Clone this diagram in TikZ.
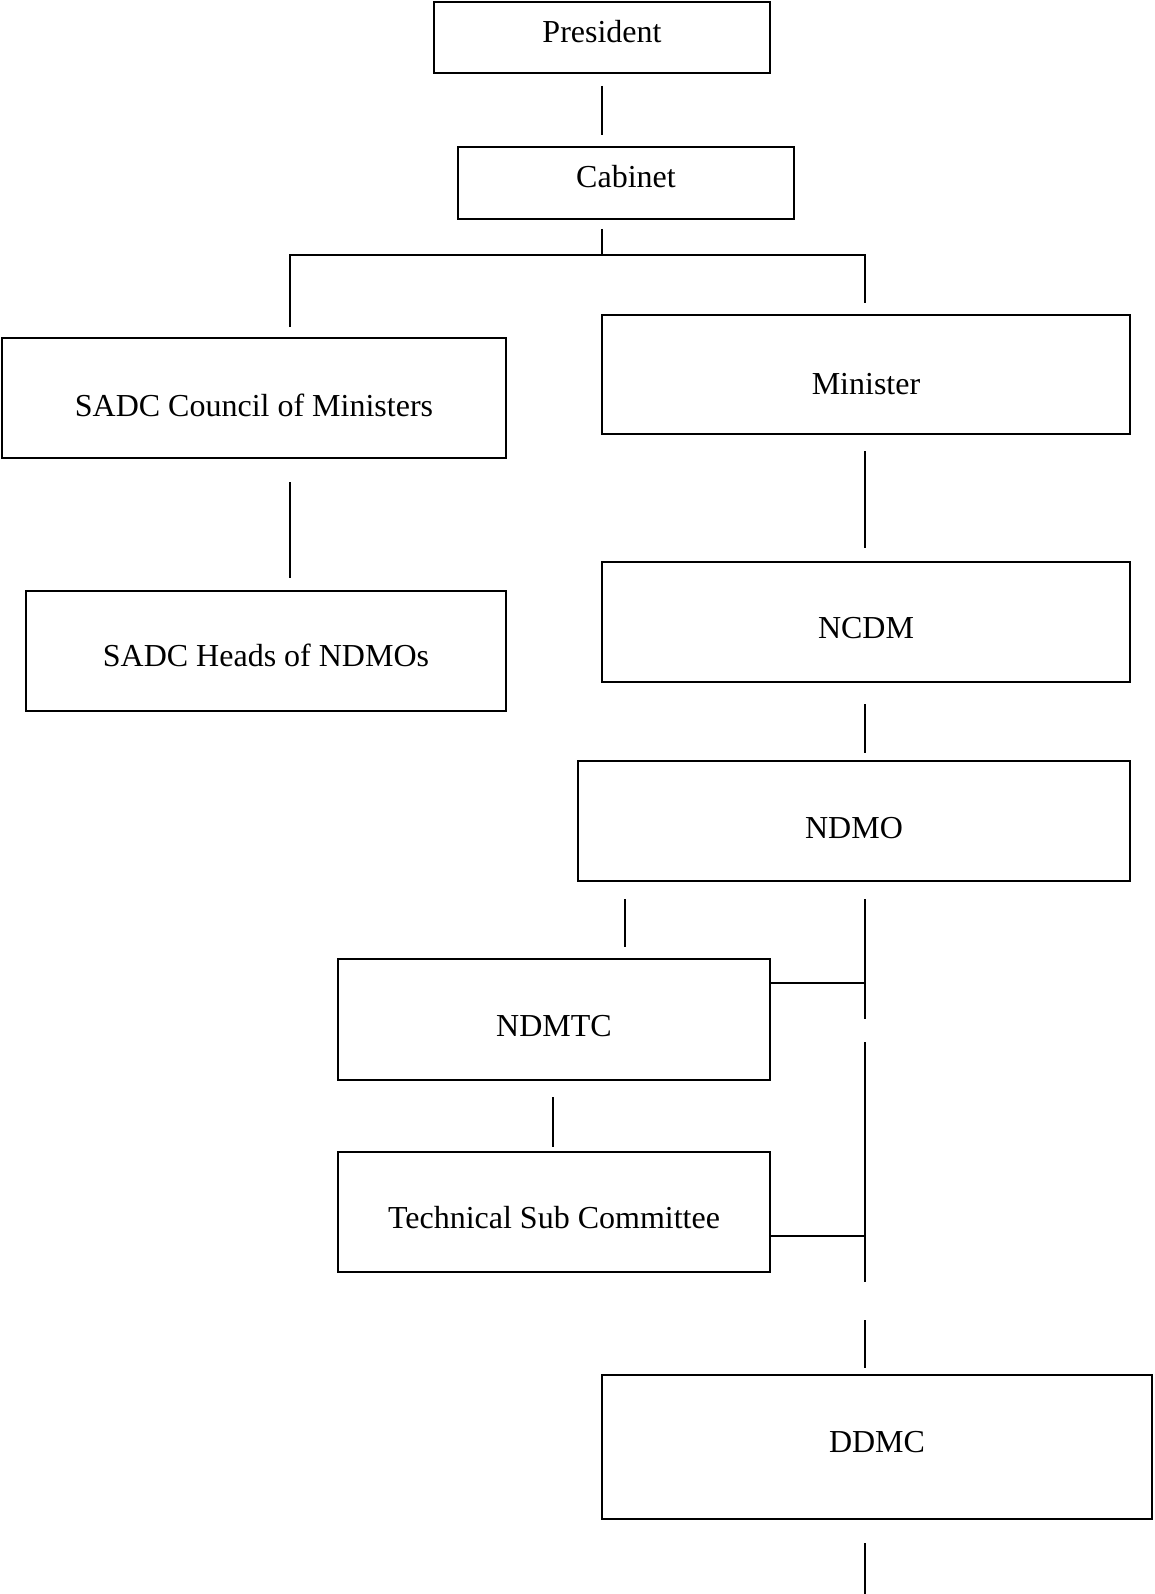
\documentclass[tikz,border=0pt]{standalone}
\usepackage{fontspec}
\setmainfont{Liberation Serif}
\begin{document}
\begin{tikzpicture}[x=1pt,y=1pt,
  box/.style={draw=black, line width=2pt, inner sep=0pt, fill=white},
  lbl/.style={anchor=base, inner sep=0pt, font=\fontsize{32}{38}\selectfont},
  conn/.style={draw=black, line width=1.6pt}]
\useasboundingbox[fill=white] (0,0) rectangle (1154,-1594);
% boxes: center x, center y, width, height
\node[box, minimum width=336, minimum height=71] (pres) at (602,-37.5) {};
\node[box, minimum width=336, minimum height=72] (cab) at (626,-183) {};
\node[box, minimum width=504, minimum height=120] (council) at (254,-398) {};
\node[box, minimum width=528, minimum height=119] (min) at (866,-374.5) {};
\node[box, minimum width=480, minimum height=120] (heads) at (266,-651) {};
\node[box, minimum width=528, minimum height=120] (ncdm) at (866,-622) {};
\node[box, minimum width=552, minimum height=120] (ndmo) at (854,-821) {};
\node[box, minimum width=432, minimum height=121] (ndmtc) at (554,-1019.5) {};
\node[box, minimum width=432, minimum height=120] (tsc) at (554,-1212) {};
\node[box, minimum width=550, minimum height=144] (ddmc) at (877,-1447) {};
% texts
\node[lbl] (presT) at (602,-43) {President};
\node[lbl] (cabT) at (626,-188) {Cabinet};
\node[lbl] (councilT) at (254,-416) {SADC Council of Ministers};
\node[lbl] (minT) at (866,-394) {Minister};
\node[lbl] (headsT) at (266,-666) {SADC Heads of NDMOs};
\node[lbl] (ncdmT) at (866,-638) {NCDM};
\node[lbl] (ndmoT) at (854,-838) {NDMO};
\node[lbl] (ndmtcT) at (554,-1036) {NDMTC};
\node[lbl] (tscT) at (554,-1228) {Technical Sub Committee};
\node[lbl] (ddmcT) at (877,-1452) {DDMC};
% free ends of connectors
\coordinate (a1) at (602,-86);  \coordinate (a2) at (602,-135);
\coordinate (b1) at (602,-229); \coordinate (b2) at (602,-255);
\coordinate (hl) at (290,-255); \coordinate (hr) at (865,-255);
\coordinate (ld) at (290,-327); \coordinate (rd) at (865,-303);
\coordinate (c1) at (290,-482); \coordinate (c2) at (290,-578);
\coordinate (d1) at (865,-451); \coordinate (d2) at (865,-548);
\coordinate (e1) at (865,-704); \coordinate (e2) at (865,-753);
\coordinate (f1) at (625,-899); \coordinate (f2) at (625,-947);
\coordinate (g1) at (865,-899); \coordinate (g2) at (865,-1019);
\coordinate (gm) at (865,-983);
\coordinate (h1) at (865,-1042); \coordinate (h2) at (865,-1282);
\coordinate (hm) at (865,-1236);
\coordinate (i1) at (553,-1097); \coordinate (i2) at (553,-1147);
\coordinate (j1) at (865,-1320); \coordinate (j2) at (865,-1368);
\coordinate (k1) at (865,-1543); \coordinate (k2) at (865,-1594);
% connectors
\draw[conn] (a1) -- (a2);
\draw[conn] (b1) -- (b2);
\draw[conn] (ld) -- (hl) -- (hr) -- (rd);
\draw[conn] (c1) -- (c2);
\draw[conn] (d1) -- (d2);
\draw[conn] (e1) -- (e2);
\draw[conn] (f1) -- (f2);
\draw[conn] (g1) -- (g2);
\draw[conn] (ndmtc.east |- gm) -- (gm);
\draw[conn] (h1) -- (h2);
\draw[conn] (tsc.east |- hm) -- (hm);
\draw[conn] (i1) -- (i2);
\draw[conn] (j1) -- (j2);
\draw[conn] (k1) -- (k2);
\end{tikzpicture}
\end{document}
